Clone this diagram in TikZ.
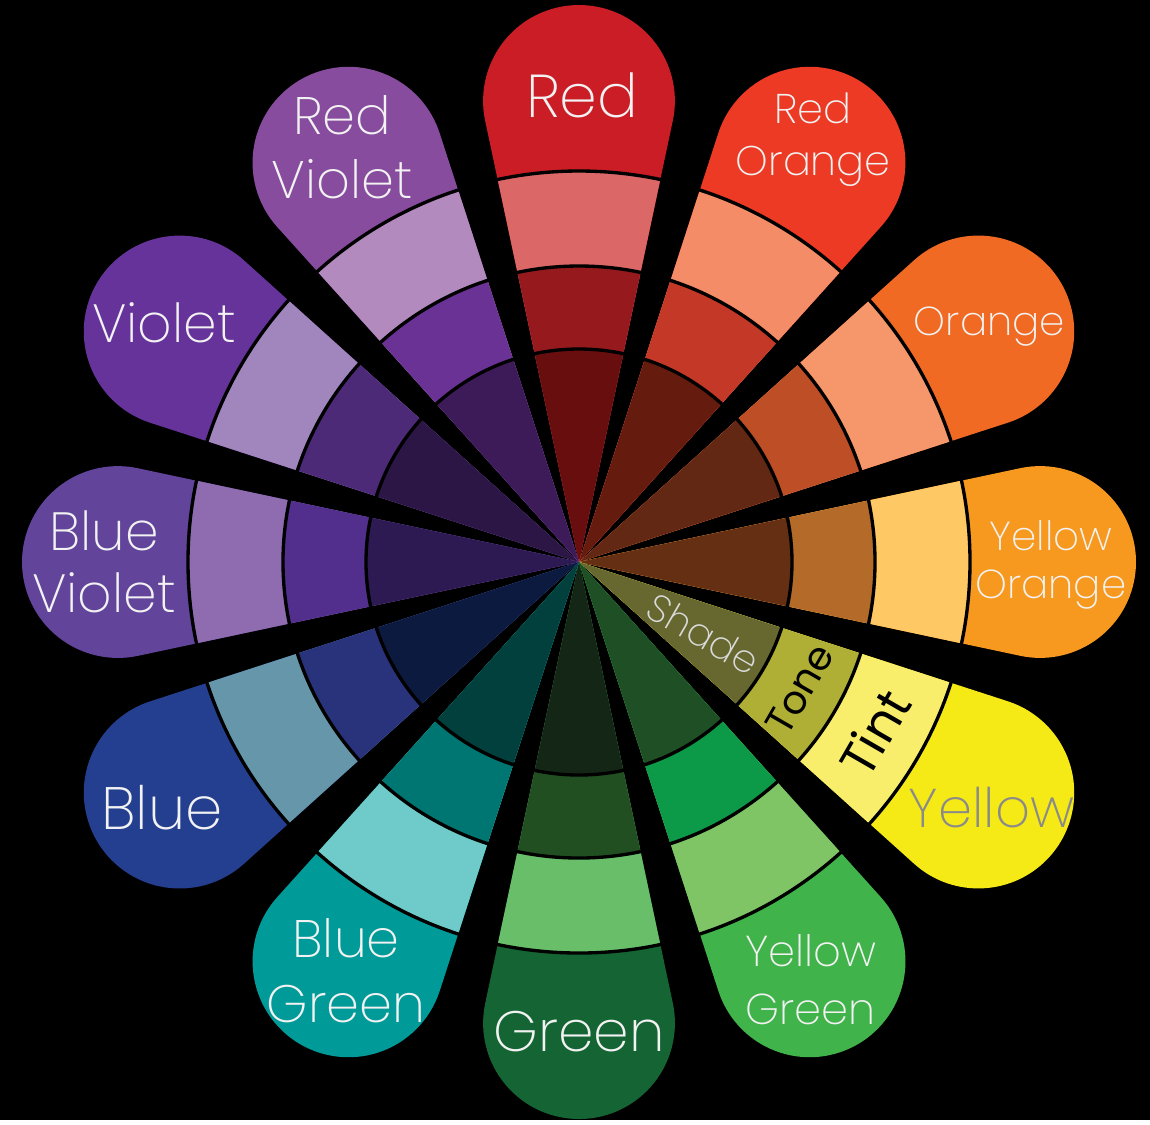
\documentclass[tikz,border=0pt]{standalone}
\usepackage{fontspec}
\IfFontExistsTF{Poppins ExtraLight}{\setmainfont{Poppins ExtraLight}}{%
  \IfFontExistsTF{Poppins Light}{\setmainfont{Poppins Light}}{\setmainfont{Poppins}}}
\newfontfamily\bandfont{Poppins}
\usepackage{xcolor}
\usetikzlibrary{positioning}
% pure / tint / tone / shade for every hue
\definecolor{pureR}{HTML}{CB1D25}  \definecolor{tintR}{HTML}{DC6767}
\definecolor{toneR}{HTML}{961A1D}  \definecolor{shadeR}{HTML}{680E0E}
\definecolor{pureRO}{HTML}{EC3A24} \definecolor{tintRO}{HTML}{F48C68}
\definecolor{toneRO}{HTML}{C33826} \definecolor{shadeRO}{HTML}{661B0F}
\definecolor{pureO}{HTML}{F06A23}  \definecolor{tintO}{HTML}{F5976A}
\definecolor{toneO}{HTML}{BD4E26}  \definecolor{shadeO}{HTML}{632813}
\definecolor{pureYO}{HTML}{F7991E} \definecolor{tintYO}{HTML}{FEC865}
\definecolor{toneYO}{HTML}{B46A28} \definecolor{shadeYO}{HTML}{652F14}
\definecolor{pureY}{HTML}{F5E916}  \definecolor{tintY}{HTML}{F9EE6B}
\definecolor{toneY}{HTML}{AFAE35}  \definecolor{shadeY}{HTML}{66682F}
\definecolor{pureYG}{HTML}{40B34A} \definecolor{tintYG}{HTML}{7FC566}
\definecolor{toneYG}{HTML}{0C9A48} \definecolor{shadeYG}{HTML}{1F4F24}
\definecolor{pureG}{HTML}{156534}  \definecolor{tintG}{HTML}{69BF69}
\definecolor{toneG}{HTML}{214F22}  \definecolor{shadeG}{HTML}{142716}
\definecolor{pureBG}{HTML}{009A98} \definecolor{tintBG}{HTML}{6FCBC9}
\definecolor{toneBG}{HTML}{007673} \definecolor{shadeBG}{HTML}{01403C}
\definecolor{pureB}{HTML}{243F90}  \definecolor{tintB}{HTML}{6596A9}
\definecolor{toneB}{HTML}{29337B}  \definecolor{shadeB}{HTML}{0D1A40}
\definecolor{pureBV}{HTML}{62449B} \definecolor{tintBV}{HTML}{8E6CAF}
\definecolor{toneBV}{HTML}{522E8D} \definecolor{shadeBV}{HTML}{2E1A52}
\definecolor{pureV}{HTML}{66339A}  \definecolor{tintV}{HTML}{A086BC}
\definecolor{toneV}{HTML}{4C2A78}  \definecolor{shadeV}{HTML}{2C1645}
\definecolor{pureRV}{HTML}{884C9E} \definecolor{tintRV}{HTML}{B28ABE}
\definecolor{toneRV}{HTML}{6B3296} \definecolor{shadeRV}{HTML}{3D1B59}
\definecolor{labelwhite}{HTML}{F2F2F2}
\definecolor{labelgray}{HTML}{8A8A8A}
\tikzset{
  ringline/.style={draw=black, line width=0.95pt},
  huename/.style={inner sep=0pt, align=center, text=#1},
  huename/.default=labelwhite,
  ringname/.style={inner sep=0pt, font=\fontsize{#1}{#1}\selectfont},
}

\begin{document}
\begin{tikzpicture}
    \fill[black] (-5.79,-5.58) rectangle (5.71,5.62);
    % petals, cap first then the inner bands
    \foreach \ang/\key in {90/R,60/RO,30/O,0/YO,-30/Y,-60/YG,-90/G,-120/BG,-150/B,180/BV,150/V,120/RV}{
        \fill[pure\key] (0,0) -- ({\ang-12}:4.51)
            arc[start angle=\ang-102, end angle=\ang+102, radius=0.959] -- cycle;
        \fill[tint\key] (0,0) -- ({\ang-12}:3.91)
            arc[start angle=\ang-12, end angle=\ang+12, radius=3.91] -- cycle;
        \fill[tone\key] (0,0) -- ({\ang-12}:2.96)
            arc[start angle=\ang-12, end angle=\ang+12, radius=2.96] -- cycle;
        \fill[shade\key] (0,0) -- ({\ang-12}:2.13)
            arc[start angle=\ang-12, end angle=\ang+12, radius=2.13] -- cycle;
    }
    \foreach \rad in {2.13,2.96,3.91}
        \draw[ringline] (0,0) circle[radius=\rad];
    % hue names
    \foreach \ang/\rad/\sz/\bs/\col/\name/\txt in {
        89.6/4.67/17.2/21/labelwhite/red/Red,
        61/4.83/11.8/15/labelwhite/redorange/{Red\\Orange},
        29.8/4.73/11.5/14/labelwhite/orange/Orange,
        -0.4/4.72/11.5/13.7/labelwhite/yelloworange/{Yellow\\Orange},
        -30.7/4.80/15.5/18/labelgray/yellow/Yellow,
        -61/4.78/12.3/16.5/labelwhite/yellowgreen/{Yellow\\Green},
        -90/4.70/16.2/21/labelwhite/green/Green,
        -119.7/4.70/15/18.5/labelwhite/bluegreen/{Blue\\Green},
        -149.5/4.84/17/21/labelwhite/blue/Blue,
        180/4.75/15.3/17.6/labelwhite/blueviolet/{Blue\\Violet},
        150/4.79/15.3/18/labelwhite/violet/Violet,
        119.7/4.78/15/18.2/labelwhite/redviolet/{Red\\Violet}}
        \node[huename=\col, font=\fontsize{\sz}{\bs}\selectfont] (\name) at (\ang:\rad) {\txt};
    % band names on the yellow petal
    \node[ringname=11, text=labelwhite!90!black, rotate=-30] (shade) at (-30:1.44) {Shade};
    \node[ringname=11.2, text=black, rotate=60] (tone) at (-30:2.55) {\bandfont Tone};
    \node[ringname=14.2, text=black, rotate=60] (tint) at (-30:3.41) {\bandfont Tint};
\end{tikzpicture}
\end{document}
